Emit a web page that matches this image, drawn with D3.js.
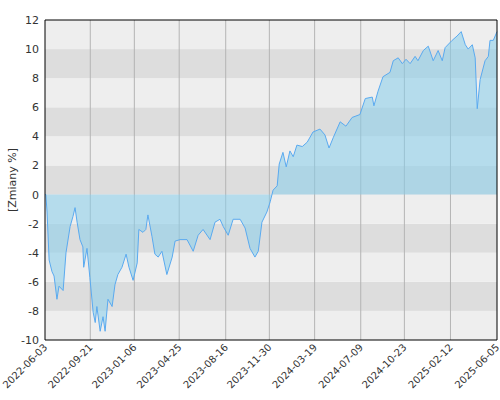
<!DOCTYPE html>
<html><head><meta charset="utf-8">
<script src="https://cdn.jsdelivr.net/npm/d3@7"></script>
<style>body{margin:0;background:#fff}text{font-family:"DejaVu Sans",sans-serif}</style>
</head><body><div id="chart"></div>
<script>
// days since 2022-06-03 and cumulative change in %
const days = [0,2,5,10,17,22,29,34,44,51,61,68,73,78,85,92,94,102,109,117,122,126,134,141,146,153,163,170,177,187,197,204,214,224,228,238,245,250,260,267,275,284,296,309,316,328,345,360,372,384,401,413,425,433,445,457,474,486,498,510,518,527,539,547,554,564,569,578,586,595,603,612,625,637,651,668,680,690,700,717,731,746,765,778,795,799,809,821,838,846,858,868,877,887,899,906,919,931,943,955,965,972,989,1001,1011,1021,1028,1038,1045,1050,1057,1069,1077,1081,1089,1098];
const values = [0,0,-1.2,-4.5,-5.3,-5.6,-7.2,-6.3,-6.6,-4.0,-2.2,-1.5,-0.9,-1.9,-3.1,-3.6,-5.0,-3.7,-5.7,-8.1,-8.8,-7.7,-9.4,-8.4,-9.4,-7.2,-7.7,-6.2,-5.5,-5.0,-4.1,-5.0,-5.9,-4.7,-2.4,-2.6,-2.4,-1.4,-2.9,-4.1,-4.3,-3.9,-5.5,-4.3,-3.2,-3.1,-3.1,-3.9,-2.8,-2.4,-3.1,-1.9,-1.7,-2.2,-2.8,-1.7,-1.7,-2.3,-3.7,-4.3,-3.9,-1.9,-1.2,-0.5,0.3,0.6,2.1,2.9,1.9,3.0,2.6,3.4,3.3,3.6,4.3,4.5,4.1,3.2,3.9,5.0,4.7,5.3,5.5,6.6,6.7,6.1,7.1,8.1,8.4,9.2,9.4,9.0,9.3,9.0,9.5,9.2,9.9,10.2,9.2,9.9,9.2,10.1,10.6,10.9,11.2,10.3,10.0,10.3,9.4,5.9,7.9,9.2,9.5,10.6,10.6,11.2];
const tickLabels = ["2022-06-03","2022-09-21","2023-01-06","2023-04-25","2023-08-16","2023-11-30","2024-03-19","2024-07-09","2024-10-23","2025-02-12","2025-06-05"];
const yTicks = [-10,-8,-6,-4,-2,0,2,4,6,8,10,12];

const W=500,H=400,m={l:45,r:3,t:20,b:60};
const parse=d3.timeParse("%Y-%m-%d");
const start=parse("2022-06-03");
const data=days.map((d,i)=>({date:d3.timeDay.offset(start,d),v:values[i]}));
const x=d3.scaleTime().domain([start,parse("2025-06-05")]).range([m.l,W-m.r]);
const y=d3.scaleLinear().domain([-10,12]).range([H-m.b,m.t]);
const svg=d3.select("#chart").append("svg").attr("width",W).attr("height",H);

// bands
svg.selectAll("rect.band").data(yTicks.slice(0,-1)).enter().append("rect")
 .attr("x",m.l).attr("width",W-m.r-m.l)
 .attr("y",d=>y(d+2)).attr("height",d=>y(d)-y(d+2))
 .attr("fill",(d,i)=>i%2?"#dddddd":"#eeeeee");
// vertical grid
svg.selectAll("line.vg").data(tickLabels.slice(1,-1)).enter().append("line")
 .attr("x1",d=>x(parse(d))).attr("x2",d=>x(parse(d)))
 .attr("y1",m.t).attr("y2",H-m.b).attr("stroke","#b4b4b4");

svg.append("path").datum(data)
 .attr("d",d3.area().x(d=>x(d.date)).y0(y(0)).y1(d=>y(d.v)))
 .attr("fill","rgba(135,206,235,0.55)");
svg.append("path").datum(data)
 .attr("d",d3.line().x(d=>x(d.date)).y(d=>y(d.v)))
 .attr("fill","none").attr("stroke","#5aaaf0").attr("stroke-width",1);

// frame
svg.append("line").attr("x1",m.l).attr("x2",W-m.r).attr("y1",m.t).attr("y2",m.t).attr("stroke","#000");
svg.append("line").attr("x1",W-m.r).attr("x2",W-m.r).attr("y1",m.t).attr("y2",H-m.b).attr("stroke","#000");
svg.append("line").attr("x1",m.l).attr("x2",W-m.r).attr("y1",H-m.b).attr("y2",H-m.b).attr("stroke","#000");
svg.append("line").attr("x1",m.l).attr("x2",m.l).attr("y1",m.t).attr("y2",H-m.b).attr("stroke","#000");

svg.selectAll("text.yt").data(yTicks).enter().append("text")
 .attr("x",m.l-6).attr("y",d=>y(d)+4).attr("text-anchor","end")
 .attr("font-size",11).attr("fill","#333").text(d=>d);
svg.selectAll("text.xt").data(tickLabels).enter().append("text")
 .attr("transform",d=>`translate(${x(parse(d))+3},${H-m.b+8}) rotate(-45)`)
 .attr("text-anchor","end").attr("font-size",10).attr("fill","#333").text(d=>d);
svg.append("text").attr("transform",`translate(16,${(m.t+H-m.b)/2}) rotate(-90)`)
 .attr("text-anchor","middle").attr("font-size",11).attr("fill","#333").text("[Zmiany %]");
</script></body></html>
